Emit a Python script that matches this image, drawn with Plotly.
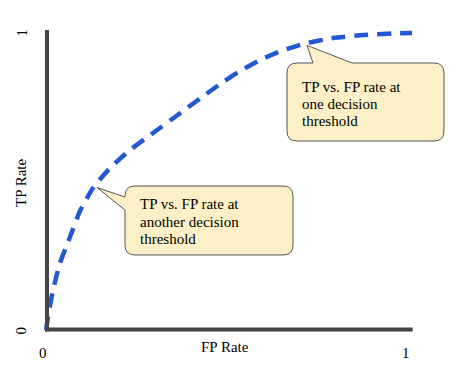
import plotly.graph_objects as go

# ROC curve values
fpr = [0.0, 0.0056, 0.0194, 0.0389, 0.0667, 0.0944, 0.1306, 0.1778, 0.2333, 0.2972,
       0.3639, 0.4278, 0.4917, 0.5389, 0.5944, 0.65, 0.7139, 0.7972, 0.8806, 0.9639, 1.0167]
tpr = [0.0, 0.0436, 0.1342, 0.2248, 0.3121, 0.3993, 0.4765, 0.5436, 0.6040, 0.6611,
       0.7198, 0.7768, 0.8322, 0.8691, 0.9060, 0.9346, 0.9597, 0.9799, 0.9899, 0.9950, 0.9966]

x_tick_vals = [0, 1]
x_tick_labels = ["0", "1"]
y_tick_vals = [0, 1]
y_tick_labels = ["0", "1"]
x_title = "FP Rate"
y_title = "TP Rate"

callout_one = ["TP vs. FP rate at", "one decision", "threshold"]
callout_two = ["TP vs. FP rate at", "another decision", "threshold"]

# layout geometry (page pixels; the page body has an 8px margin)
OFF = 8
PAGE_W, PAGE_H = 458, 376
WIDTH, HEIGHT = PAGE_W - OFF, PAGE_H - OFF
PLOT_L, PLOT_R, PLOT_T, PLOT_B = 44, 413, 30, 332
ML, MR, MT, MB = PLOT_L - OFF, PAGE_W - PLOT_R, PLOT_T - OFF, PAGE_H - PLOT_B
PW = PLOT_R - PLOT_L
PH = PLOT_B - PLOT_T
XR = [-0.0056, 1.0194]
YR = [-0.0067, 1.0067]

FONT = "Liberation Serif, Times New Roman, serif"
AXIS_COLOR = "#444444"
LINE_COLOR = "#2457d6"
BUBBLE_FILL = "#fdf0c7"
BUBBLE_EDGE = "#555555"


def px(xp, yp):
    """page pixel -> paper coordinates"""
    return (xp - PLOT_L) / PW, (PLOT_B - yp) / PH


def d2px(x, y):
    xp = PLOT_L + (x - XR[0]) / (XR[1] - XR[0]) * PW
    yp = PLOT_B - (y - YR[0]) / (YR[1] - YR[0]) * PH
    return xp, yp


def path_from_pixels(cmds):
    out = []
    for c in cmds:
        op = c[0]
        pts = c[1:]
        coords = []
        for i in range(0, len(pts), 2):
            a, b = px(pts[i], pts[i + 1])
            coords.append(f"{a:.5f},{b:.5f}")
        out.append(op + " " + " ".join(coords) if coords else op)
    return " ".join(out)


def bubble_top(L, T, R, B, r, base0, base1, tip):
    return path_from_pixels([
        ("M", L + r, T), ("L", base0, T), ("L", tip[0], tip[1]), ("L", base1, T),
        ("L", R - r, T), ("Q", R, T, R, T + r), ("L", R, B - r),
        ("Q", R, B, R - r, B), ("L", L + r, B), ("Q", L, B, L, B - r),
        ("L", L, T + r), ("Q", L, T, L + r, T), ("Z",),
    ])


def bubble_left(L, T, R, B, r, base0, base1, tip):
    return path_from_pixels([
        ("M", L + r, T), ("L", R - r, T), ("Q", R, T, R, T + r), ("L", R, B - r),
        ("Q", R, B, R - r, B), ("L", L + r, B), ("Q", L, B, L, B - r),
        ("L", L, base1), ("L", tip[0], tip[1]), ("L", L, base0),
        ("L", L, T + r), ("Q", L, T, L + r, T), ("Z",),
    ])


fig = go.Figure()
fig.add_trace(go.Scatter(
    x=fpr, y=tpr, mode="lines",
    line=dict(color=LINE_COLOR, width=4.5, dash="14px,9px", shape="spline", smoothing=0.5),
    hoverinfo="skip", showlegend=False,
))

shapes = []
# axis lines
shapes.append(dict(type="line", xref="paper", yref="paper",
                   x0=px(47, 0)[0], x1=px(47, 0)[0], y0=px(0, 331.5)[1], y1=px(0, 30)[1],
                   line=dict(color=AXIS_COLOR, width=4)))
shapes.append(dict(type="line", xref="paper", yref="paper",
                   x0=px(45, 0)[0], x1=px(412.7, 0)[0], y0=px(0, 329.5)[1], y1=px(0, 329.5)[1],
                   line=dict(color=AXIS_COLOR, width=4)))

# callout bubbles (tips point at the curve)
tip1 = d2px(0.725, 0.955)
tip2 = d2px(0.142, 0.478)
shapes.append(dict(type="path", xref="paper", yref="paper", layer="above",
                   path=bubble_top(287, 63, 444, 141, 10, 313, 352, tip1),
                   fillcolor=BUBBLE_FILL, line=dict(color=BUBBLE_EDGE, width=1)))
shapes.append(dict(type="path", xref="paper", yref="paper", layer="above",
                   path=bubble_left(125, 186, 293, 255, 10, 197, 210, tip2),
                   fillcolor=BUBBLE_FILL, line=dict(color=BUBBLE_EDGE, width=1)))

annotations = []
tf = dict(family=FONT, size=15, color="#000000")


def text_at(t, xp, yp, xanchor="center", angle=0):
    a, b = px(xp, yp)
    annotations.append(dict(text=t, xref="paper", yref="paper", x=a, y=b, xanchor=xanchor,
                            yanchor="middle", showarrow=False, font=tf, textangle=angle))


for i, line in enumerate(callout_one):
    text_at(line, 300, 87 + 17 * i, xanchor="left")
for i, line in enumerate(callout_two):
    text_at(line, 138, 204 + 17.5 * i, xanchor="left")

# tick labels
for v, t in zip(x_tick_vals, x_tick_labels):
    xp, _ = d2px(v, 0)
    text_at(t, xp - 3 if v == 0 else xp, 353)
for v, t in zip(y_tick_vals, y_tick_labels):
    _, yp = d2px(0, v)
    text_at(t, 21.5, yp + 1, angle=-90)
text_at(x_title, 225, 347)
text_at(y_title, 21, 183, angle=-90)

fig.update_layout(
    width=WIDTH, height=HEIGHT,
    margin=dict(l=ML, r=MR, t=MT, b=MB),
    paper_bgcolor="white", plot_bgcolor="white",
    xaxis=dict(range=XR, showgrid=False, zeroline=False, showticklabels=False, showline=False, fixedrange=True),
    yaxis=dict(range=YR, showgrid=False, zeroline=False, showticklabels=False, showline=False, fixedrange=True),
    shapes=shapes, annotations=annotations, showlegend=False,
)

fig.write_html("out.html")
